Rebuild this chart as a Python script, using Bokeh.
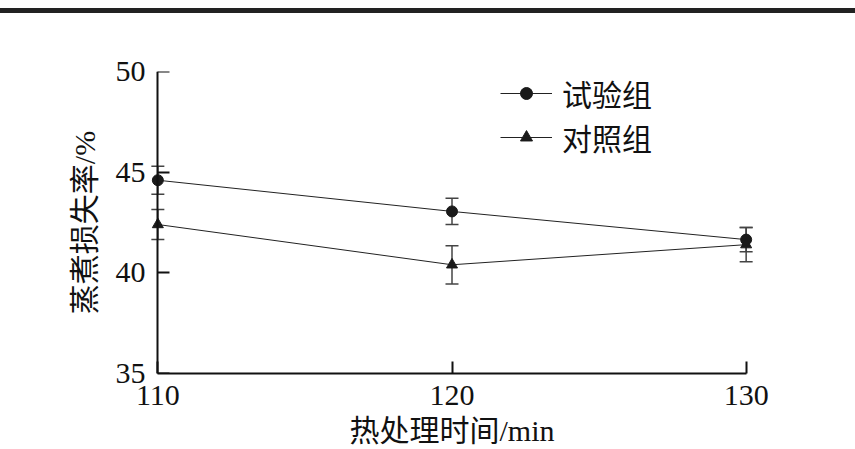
from bokeh.plotting import figure
from bokeh.layouts import column
from bokeh.models import (Range1d, FixedTicker, Whisker, TeeHead, ColumnDataSource,
                          Legend, LegendItem, LinearAxis, Div)
from bokeh.embed import file_html
from bokeh.resources import INLINE

# ---- data ----
times = [110, 120, 130]
test_mean = [44.6, 43.05, 41.65]
test_err = [0.7, 0.65, 0.6]
ctrl_mean = [42.4, 40.4, 41.4]
ctrl_err = [0.75, 0.95, 0.85]
series_names = ["试验组", "对照组"]
x_ticks = [110, 120, 130]
y_ticks = [35, 40, 45, 50]
x_label = "热处理时间/min"
y_label = "蒸煮损失率/%"

SERIF = "'Liberation Serif', 'Noto Sans CJK SC'"
CJK = "'Noto Sans CJK SC'"
INK = "#111"

p = figure(width=855, height=436, output_backend="svg", toolbar_location=None,
           x_range=Range1d(109.75, 130.25), y_range=Range1d(35, 50),
           y_axis_location=None)
p.min_border_left = 150
p.min_border_right = 102
p.min_border_top = 58
p.min_border_bottom = 76
p.xgrid.visible = False
p.ygrid.visible = False
p.outline_line_color = None
p.background_fill_color = "white"
p.border_fill_color = "white"

# y axis with labels only (at frame edge)
ylab_axis = LinearAxis(ticker=FixedTicker(ticks=y_ticks), axis_label=y_label)
ylab_axis.axis_line_color = None
ylab_axis.major_tick_line_color = None
ylab_axis.minor_tick_line_color = None
ylab_axis.major_tick_in = 0
ylab_axis.major_tick_out = 0
ylab_axis.major_label_standoff = 5
ylab_axis.axis_label_standoff = 12
ylab_axis.major_label_text_font = "Liberation Serif"
ylab_axis.major_label_text_font_size = "30px"
ylab_axis.major_label_text_color = INK
ylab_axis.axis_label_text_font = SERIF
ylab_axis.axis_label_text_font_size = "30px"
ylab_axis.axis_label_text_font_style = "normal"
ylab_axis.axis_label_text_color = INK
p.add_layout(ylab_axis, "left")

# y axis line + inward ticks, fixed at x = first time value (no labels)
yline_axis = LinearAxis(ticker=FixedTicker(ticks=y_ticks), fixed_location=x_ticks[0],
                        bounds=(y_ticks[0], y_ticks[-1]))
yline_axis.axis_line_width = 2
yline_axis.axis_line_color = INK
yline_axis.major_tick_line_width = 2
yline_axis.major_tick_line_color = INK
yline_axis.major_tick_in = 0
yline_axis.major_tick_out = 12
yline_axis.minor_tick_line_color = None
yline_axis.major_label_text_color = None
yline_axis.major_label_text_alpha = 0
yline_axis.major_label_text_font_size = "10px"
yline_axis.major_label_standoff = 0
p.add_layout(yline_axis, "right")

xa = p.xaxis[0]
xa.ticker = FixedTicker(ticks=x_ticks)
xa.bounds = (x_ticks[0], x_ticks[-1])
xa.axis_line_width = 2
xa.axis_line_color = INK
xa.major_tick_line_width = 2
xa.major_tick_line_color = INK
xa.major_tick_in = 12
xa.major_tick_out = 0
xa.minor_tick_line_color = None
xa.major_label_text_font = "Liberation Serif"
xa.major_label_text_font_size = "30px"
xa.major_label_text_color = INK
xa.major_label_standoff = 12
xa.axis_label = x_label
xa.axis_label_text_font = SERIF
xa.axis_label_text_font_size = "30px"
xa.axis_label_text_font_style = "normal"
xa.axis_label_text_color = INK
xa.axis_label_standoff = 6

src_t = ColumnDataSource(dict(x=times, y=test_mean,
                              up=[m + e for m, e in zip(test_mean, test_err)],
                              lo=[m - e for m, e in zip(test_mean, test_err)]))
src_c = ColumnDataSource(dict(x=times, y=ctrl_mean,
                              up=[m + e for m, e in zip(ctrl_mean, ctrl_err)],
                              lo=[m - e for m, e in zip(ctrl_mean, ctrl_err)]))

for src in (src_t, src_c):
    w = Whisker(source=src, base="x", upper="up", lower="lo",
                line_color="#444", line_width=1.5,
                upper_head=TeeHead(size=13, line_color="#444", line_width=1.5),
                lower_head=TeeHead(size=13, line_color="#444", line_width=1.5))
    p.add_layout(w)

l1 = p.line("x", "y", source=src_t, line_color="#222", line_width=1)
m1 = p.scatter("x", "y", source=src_t, marker="circle", size=11,
               fill_color="#1a1a1a", line_color="#1a1a1a")
l2 = p.line("x", "y", source=src_c, line_color="#222", line_width=1)
m2 = p.scatter("x", "y", source=src_c, marker="triangle", size=11,
               fill_color="#1a1a1a", line_color="#1a1a1a")

legend = Legend(items=[LegendItem(label=series_names[0], renderers=[l1, m1]),
                       LegendItem(label=series_names[1], renderers=[l2, m2])],
                location=(350, 214), orientation="vertical")
legend.label_text_font = CJK
legend.label_text_font_size = "30px"
legend.label_text_color = INK
legend.glyph_width = 52
legend.glyph_height = 30
legend.label_height = 30
legend.label_standoff = 10
legend.spacing = 0
legend.padding = 0
legend.margin = 0
legend.border_line_color = None
legend.background_fill_alpha = 0
p.add_layout(legend)

top_bar = Div(text="", width=855, height=5, margin=(8, 0, 0, 0),
              styles={"background-color": "#222"})

layout = column(top_bar, p, spacing=0)
open("out.html", "w").write(file_html(layout, INLINE))
